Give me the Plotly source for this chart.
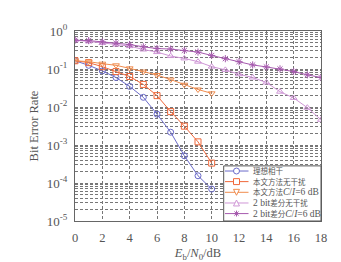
import plotly.graph_objects as go

ebn0_short = [0, 1, 2, 3, 4, 5, 6, 7, 8, 9, 10]
ebn0_long = list(range(0, 19))

ideal = [0.165, 0.125, 0.089, 0.0597, 0.0348, 0.018, 0.0065, 0.00217, 0.00052, 0.000155, 0.0000693]
ours_clean = [0.165, 0.147, 0.115, 0.0856, 0.0634, 0.0393, 0.0199, 0.00755, 0.00313, 0.00121, 0.000334]
ours_ci6 = [0.165, 0.156, 0.138, 0.125, 0.104, 0.0856, 0.0694, 0.0527, 0.0386, 0.0289, 0.0229]
diff_clean = [0.573, 0.533, 0.487, 0.44, 0.40, 0.326, 0.279, 0.219, 0.19, 0.156, 0.1155,
              0.0948, 0.0728, 0.0597, 0.0442, 0.0253, 0.0173, 0.0096, 0.00461]
diff_ci6 = [0.573, 0.559, 0.517, 0.478, 0.44, 0.383, 0.346, 0.334, 0.307, 0.279, 0.227,
            0.187, 0.156, 0.128, 0.1135, 0.1006, 0.0856, 0.0702, 0.0597]

CJK = '<span style="font-size:7.5px">%s</span>'
names = [CJK % "理想相干",
         CJK % "本文方法无干扰",
         CJK % "本文方法" + "<i>C</i>/<i>I</i>=6 dB",
         "2 bit" + CJK % "差分无干扰",
         "2 bit" + CJK % "差分" + "<i>C</i>/<i>I</i>=6 dB"]
y_tickvals = [1, 0.1, 0.01, 0.001, 0.0001, 0.00001]
y_ticktext = ["10<sup>0</sup>", "10<sup>-1</sup>", "10<sup>-2</sup>",
              "10<sup>-3</sup>", "10<sup>-4</sup>", "10<sup>-5</sup>"]
x_tickvals = list(range(0, 19, 2))

FONT = "Liberation Serif, Times New Roman, Noto Sans CJK SC, serif"

colors = ["#6b6bc9", "#f0683a", "#f08c4e", "#cf96d6", "#a65aae"]
symbols = ["circle-open", "square-open", "triangle-down-open", "triangle-up-open", "asterisk-open"]
xs_list = [ebn0_short, ebn0_short, ebn0_short, ebn0_long, ebn0_long]
ys_list = [ideal, ours_clean, ours_ci6, diff_clean, diff_ci6]

fig = go.Figure()
for xs, ys, col, sym, nm in zip(xs_list, ys_list, colors, symbols, names):
    fig.add_trace(go.Scatter(
        x=xs, y=ys, name=nm, mode="lines+markers", showlegend=False,
        line=dict(color=col, width=1),
        marker=dict(symbol=sym, size=6, color=col, line=dict(color=col, width=1)),
    ))

# ---- manual compact legend (layout only, in paper coordinates) ----
W, H = 341, 262
ML, MR, MT, MB = 67, 28, 23, 47
PW, PH = W - ML - MR, H - MT - MB


def px(xp):
    return (xp - ML) / PW


def py(yp):
    return (H - MB - yp) / PH


box_l, box_t = 215.7, 159.3
rows = [164.5, 175.2, 186.0, 196.8, 207.5]
line_l, line_r, mk_x, txt_x, r = 217.0, 240.5, 228.5, 243.0, 3.0

shapes = [dict(type="rect", xref="paper", yref="paper", layer="above",
               x0=px(box_l), x1=1, y0=0, y1=py(box_t),
               line=dict(color="#555", width=1), fillcolor="white")]
annotations = []
for i, (yy, col) in enumerate(zip(rows, colors)):
    shapes.append(dict(type="line", xref="paper", yref="paper", layer="above",
                       x0=px(line_l), x1=px(line_r), y0=py(yy), y1=py(yy),
                       line=dict(color=col, width=1)))
    mk = dict(xref="paper", yref="paper", layer="above", line=dict(color=col, width=1),
              fillcolor="white")
    if i == 0:
        mk.update(type="circle", x0=px(mk_x - r), x1=px(mk_x + r), y0=py(yy + r), y1=py(yy - r))
    elif i == 1:
        mk.update(type="rect", x0=px(mk_x - r), x1=px(mk_x + r), y0=py(yy + r), y1=py(yy - r))
    elif i == 2:
        mk.update(type="path", path="M %f,%f L %f,%f L %f,%f Z" % (
            px(mk_x - r), py(yy - r), px(mk_x + r), py(yy - r), px(mk_x), py(yy + r)))
    elif i == 3:
        mk.update(type="path", path="M %f,%f L %f,%f L %f,%f Z" % (
            px(mk_x - r), py(yy + r), px(mk_x + r), py(yy + r), px(mk_x), py(yy - r)))
    else:
        d = r * 0.7
        mk.update(type="path", path=(
            "M %f,%f L %f,%f M %f,%f L %f,%f M %f,%f L %f,%f M %f,%f L %f,%f" % (
                px(mk_x - r), py(yy), px(mk_x + r), py(yy),
                px(mk_x), py(yy - r), px(mk_x), py(yy + r),
                px(mk_x - d), py(yy - d), px(mk_x + d), py(yy + d),
                px(mk_x - d), py(yy + d), px(mk_x + d), py(yy - d))))
        mk.pop("fillcolor")
    shapes.append(mk)
    annotations.append(dict(xref="paper", yref="paper", x=px(txt_x), y=py(yy),
                            xanchor="left", yanchor="middle", showarrow=False,
                            text=names[i], font=dict(family=FONT, size=9.5, color="#555")))

grid = dict(gridcolor="#777", gridwidth=0.6, griddash="3px,2px")

fig.update_layout(
    width=W, height=H,
    margin=dict(l=ML, r=MR, t=MT, b=MB),
    paper_bgcolor="white", plot_bgcolor="white",
    font=dict(family=FONT, size=12, color="#444"),
    showlegend=False,
    shapes=shapes,
    annotations=annotations,
    xaxis=dict(
        range=[0, 18], tickvals=x_tickvals, ticks="",
        showline=True, linecolor="#666", linewidth=1, mirror=True,
        showgrid=True, zeroline=False, **grid,
        tickfont=dict(family=FONT, size=12.5, color="#555"),
        ticklabelstandoff=5,
        title=dict(text="<i>E</i><sub>b</sub>/<i>N</i><sub>0</sub>/dB",
                   font=dict(family=FONT, size=12.5, color="#555"), standoff=4),
    ),
    yaxis=dict(
        type="log", range=[-5, 0], tickvals=y_tickvals, ticktext=y_ticktext,
        ticks="", showline=True, linecolor="#666", linewidth=1, mirror=True,
        showgrid=True, zeroline=False, **grid,
        minor=dict(dtick="D1", showgrid=True, ticks="", **grid),
        tickfont=dict(family=FONT, size=13, color="#555"),
        ticklabelstandoff=4,
        title=dict(text="Bit Error Rate", font=dict(family=FONT, size=12.5, color="#555"),
                   standoff=5),
    ),
)

fig.write_html("out.html")
